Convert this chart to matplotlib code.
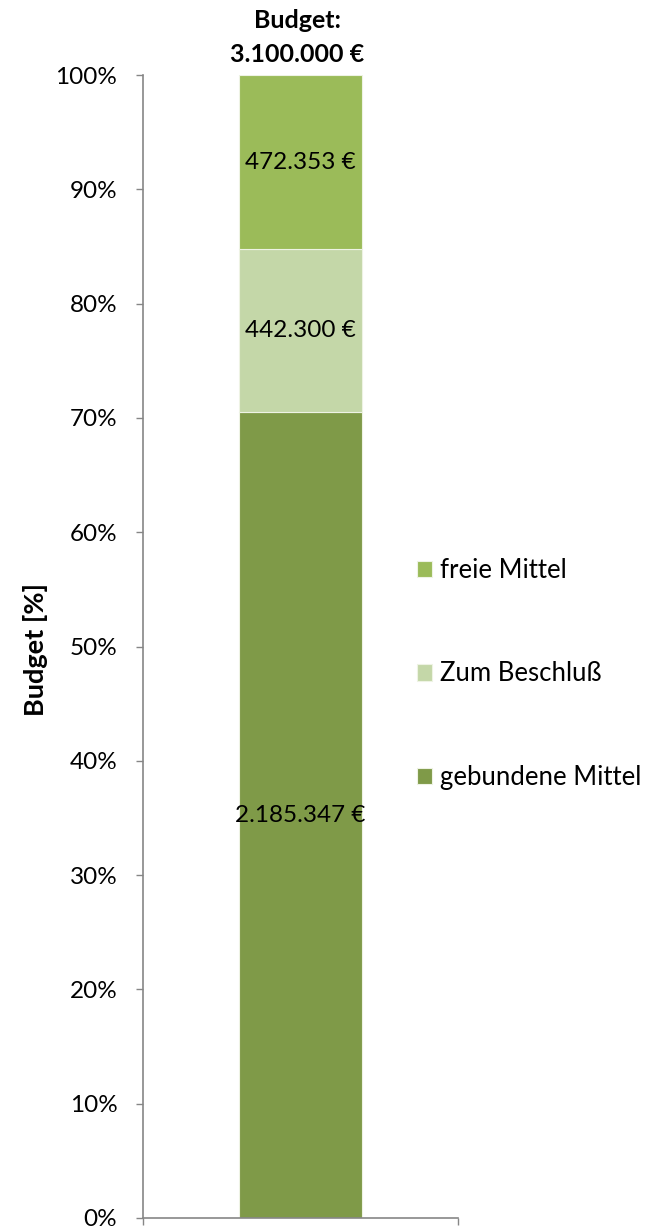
import numpy as np
import matplotlib
matplotlib.use("Agg")
from matplotlib import pyplot as plt
from matplotlib.ticker import PercentFormatter

plt.rcParams['font.family'] = ['Lato', 'DejaVu Sans']

# data
categories = ['gebundene Mittel', 'Zum Beschluß', 'freie Mittel']
amounts = [2185347, 442300, 472353]
amount_labels = ['2.185.347 €', '442.300 €', '472.353 €']
colors = ['#7F9A48', '#C4D7A8', '#9BBB59']
title_lines = ['Budget:', '3.100.000 €']

total = float(sum(amounts))
shares = [a / total * 100 for a in amounts]

W, H = 668, 1229
fig = plt.figure(figsize=(W / 100, H / 100), dpi=100)
ax = fig.add_axes([143 / W, 1 - 1218 / H, (458 - 143) / W, (1218 - 75) / H])

bottom = 0.0
bars = []
for cat, share, lab, col in zip(categories, shares, amount_labels, colors):
    b = ax.bar(0.5, share, width=0.39, bottom=bottom, color=col,
               edgecolor='#EEF3E4', linewidth=0.8, label=cat)
    bars.append(b)
    ax.text(0.5, bottom + share / 2, lab, ha='center', va='center',
            fontsize=17.5, color='black')
    bottom += share

ax.set_xlim(0, 1)
ax.set_ylim(0, 100)
ax.set_yticks(np.arange(0, 101, 10))
ax.yaxis.set_major_formatter(PercentFormatter(decimals=0))
ax.tick_params(axis='y', labelsize=17.5, length=5, width=1, color='#868686', pad=13.5)
ax.set_xticks([0, 1])
ax.set_xticklabels(['', ''])
ax.tick_params(axis='x', length=5, width=1, color='#868686', direction='out')
for s in ['top', 'right']:
    ax.spines[s].set_visible(False)
for s in ['left', 'bottom']:
    ax.spines[s].set_color('#868686')
    ax.spines[s].set_linewidth(1.2)

fig.text(35 / W, 1 - 650 / H, 'Budget [%]', rotation=90, ha='center', va='center',
         fontsize=19.5, fontweight='bold')

# title above the bar
fig.text(297 / W, 1 - 21 / H, title_lines[0], ha='center', va='center',
         fontsize=18, fontweight='bold')
fig.text(297 / W, 1 - 55 / H, title_lines[1], ha='center', va='center',
         fontsize=18, fontweight='bold')

handles = [b[0] for b in bars][::-1]
labels = categories[::-1]
leg = fig.legend(handles, labels, loc='center left',
                 bbox_to_anchor=(417 / W, 1 - 674 / H),
                 frameon=False, fontsize=18.5, labelspacing=3.05,
                 borderpad=0, borderaxespad=0,
                 handlelength=0.6, handleheight=0.6, handletextpad=0.3)

fig.savefig('out.png', dpi=100)
